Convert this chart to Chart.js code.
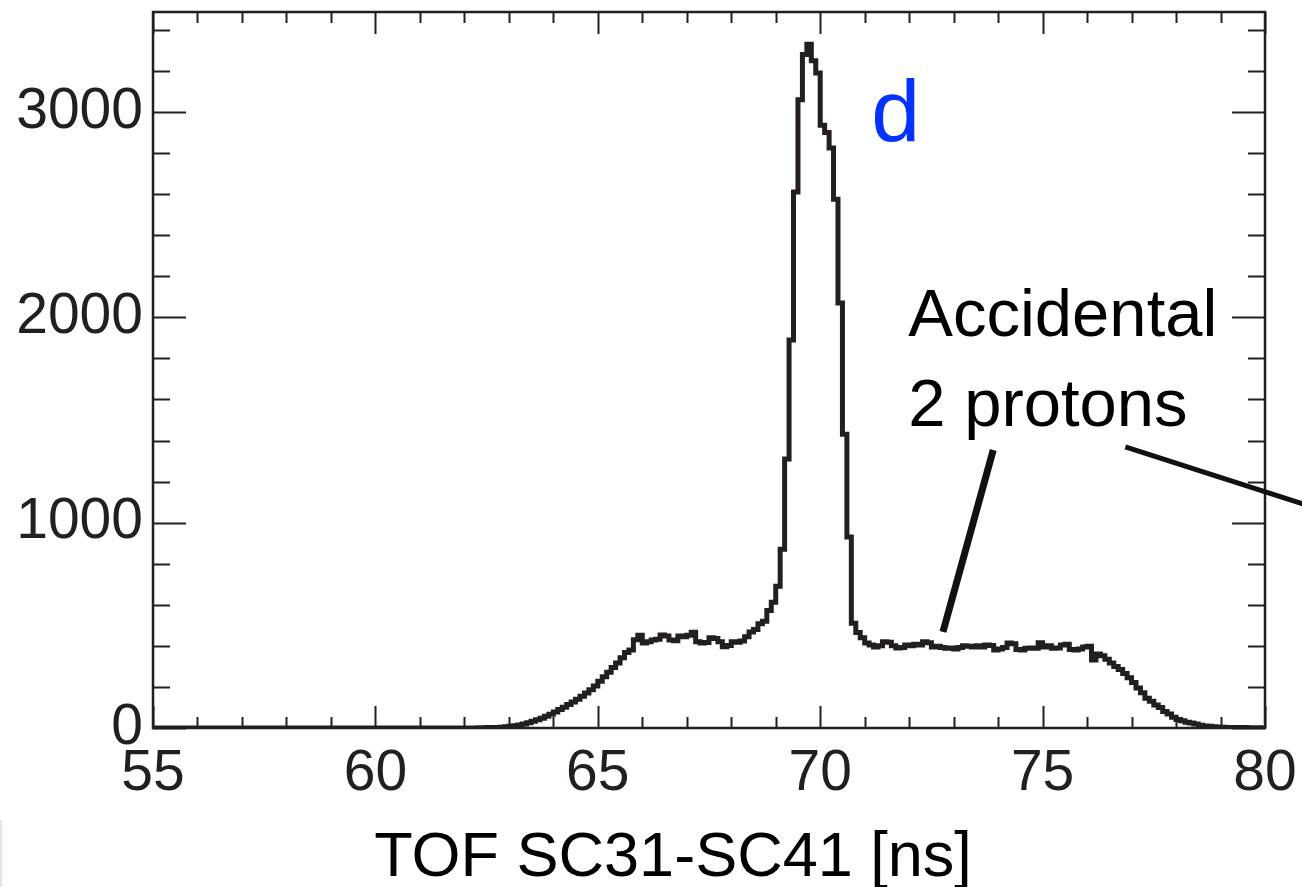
<!DOCTYPE html>
<html>
<head>
<meta charset="utf-8">
<script src="https://cdn.jsdelivr.net/npm/chart.js@4/dist/chart.umd.min.js"></script>
<style>
  html, body { margin: 0; padding: 0; background: #fff; }
  canvas { display: block; }
</style>
</head>
<body>
<canvas id="tof" width="1302" height="887"></canvas>
<script>
// histogram: 250 bins of 0.1 ns from 55 to 80 ns
const binStart = 55;
const binWidth = 0.1;
const counts = [
  0, 0, 0, 0, 0, 0, 0, 0, 0, 0,              // 55
  0, 0, 0, 0, 0, 0, 0, 0, 0, 0,              // 56
  0, 0, 0, 0, 0, 0, 0, 0, 0, 0,              // 57
  0, 0, 0, 0, 0, 0, 0, 0, 0, 0,              // 58
  0, 0, 0, 0, 0, 0, 0, 0, 0, 0,              // 59
  0, 0, 0, 0, 0, 0, 0, 0, 0, 0,              // 60
  0, 0, 0, 0, 0, 0, 0, 0, 0, 0,              // 61
  0, 0, 0, 1, 1, 2, 2, 3, 4, 6,              // 62
  8, 11, 15, 20, 26, 33, 40, 48, 57, 67,     // 63
  78, 90, 101, 114, 127, 140, 155, 170, 186, 205,   // 64
  228, 250, 272, 295, 316, 342, 368, 380, 430, 452, // 65
  414, 420, 428, 432, 453, 448, 428, 425, 448, 445, // 66
  452, 466, 420, 414, 416, 440, 436, 420, 396, 402, // 67
  420, 418, 424, 445, 468, 480, 508, 520, 572, 612, // 68
  690, 870, 1310, 1890, 2610, 3060, 3280, 3330, 3250, 3190, // 69
  2935, 2900, 2825, 2575, 2070, 1430, 930, 510, 465, 440,   // 70
  414, 404, 395, 400, 420, 418, 400, 390, 392, 404, // 71
  400, 408, 404, 420, 415, 395, 398, 392, 388, 390, // 72
  385, 392, 400, 398, 395, 400, 395, 404, 402, 380, // 73
  385, 392, 414, 410, 382, 380, 388, 390, 388, 415, // 74
  395, 400, 388, 390, 404, 408, 382, 380, 385, 395, // 75
  398, 331, 360, 352, 335, 316, 300, 285, 265, 245, // 76
  222, 195, 172, 145, 130, 112, 100, 80, 68, 52,    // 77
  42, 35, 28, 24, 19, 14, 10, 8, 6, 5,              // 78
  4, 3, 3, 2, 2, 2, 1, 1, 1, 0                      // 79
];

const xRange = [55, 80];
const yRange = [0, 3487];
const xTicks = [55, 60, 65, 70, 75, 80];
const yTicks = [0, 1000, 2000, 3000];
const xMinorStep = 1;
const yMinorStep = 200;

const xTitle = 'TOF SC31-SC41 [ns]';
const peakLabel = { text: 'd', x: 71.15, y: 2860 };
const accLabel = { lines: ['Accidental', '2 protons'], x: 71.98, y: [1909, 1471] };
const pointerLines = [
  [[73.89, 1354], [72.76, 468]],
  [[76.86, 1369], [80.85, 1091]]
];

const FONT = '"Liberation Sans", Arial, Helvetica, sans-serif';
const INK = '#231f20';

// step outline: one point per left bin edge, plus the right edge of the last bin
const points = counts.map((c, i) => ({ x: +(binStart + i * binWidth).toFixed(2), y: c }));
points.push({ x: +(binStart + counts.length * binWidth).toFixed(2), y: counts[counts.length - 1] });

const frameAndTicks = {
  id: 'frameAndTicks',
  afterDraw(chart) {
    const { ctx, chartArea: a, scales: { x, y } } = chart;
    ctx.save();
    ctx.strokeStyle = INK;

    // tick marks inside the frame, on all four sides
    ctx.lineWidth = 2;
    ctx.beginPath();
    for (let v = xRange[0]; v <= xRange[1] + 1e-9; v += xMinorStep) {
      const px = Math.round(x.getPixelForValue(v)) + 0.5;
      const len = xTicks.includes(v) ? 22 : 11;
      ctx.moveTo(px, a.bottom); ctx.lineTo(px, a.bottom - len);
      ctx.moveTo(px, a.top); ctx.lineTo(px, a.top + len);
    }
    for (let v = yRange[0]; v <= yRange[1]; v += yMinorStep) {
      const py = Math.round(y.getPixelForValue(v)) + 0.5;
      const len = yTicks.includes(v) ? 33 : 17;
      ctx.moveTo(a.left, py); ctx.lineTo(a.left + len, py);
      ctx.moveTo(a.right, py); ctx.lineTo(a.right - len, py);
    }
    ctx.stroke();

    // frame
    ctx.lineWidth = 2.5;
    ctx.strokeRect(a.left, a.top, a.right - a.left, a.bottom - a.top);

    // annotations
    ctx.fillStyle = '#0433ff';
    ctx.font = '88px ' + FONT;
    ctx.textAlign = 'left';
    ctx.textBaseline = 'alphabetic';
    ctx.fillText(peakLabel.text, x.getPixelForValue(peakLabel.x), y.getPixelForValue(peakLabel.y));

    ctx.fillStyle = '#000';
    ctx.font = '67px ' + FONT;
    accLabel.lines.forEach((t, i) => {
      ctx.fillText(t, x.getPixelForValue(accLabel.x), y.getPixelForValue(accLabel.y[i]));
    });

    ctx.strokeStyle = '#111';
    ctx.lineCap = 'butt';
    pointerLines.forEach((ln, i) => {
      ctx.lineWidth = i === 0 ? 7 : 5;
      ctx.beginPath();
      ctx.moveTo(x.getPixelForValue(ln[0][0]), y.getPixelForValue(ln[0][1]));
      ctx.lineTo(x.getPixelForValue(ln[1][0]), y.getPixelForValue(ln[1][1]));
      ctx.stroke();
    });

    // axis title, right part of the bottom band
    ctx.fillStyle = '#000';
    ctx.font = '63px ' + FONT;
    ctx.textAlign = 'center';
    ctx.fillText(xTitle, 673, 876);

    // faint crop edge bottom-left
    ctx.strokeStyle = '#dddddd';
    ctx.lineWidth = 1.5;
    ctx.beginPath();
    ctx.moveTo(1, 820); ctx.lineTo(1, 887);
    ctx.stroke();

    ctx.restore();
  }
};

new Chart(document.getElementById('tof'), {
  type: 'line',
  data: {
    datasets: [{
      data: points,
      stepped: true,
      borderColor: INK,
      borderWidth: 5,
      pointRadius: 0,
      fill: false
    }]
  },
  options: {
    responsive: false,
    animation: false,
    layout: { padding: { top: 12, right: 37, left: 0, bottom: 0 } },
    plugins: {
      legend: { display: false },
      tooltip: { enabled: false }
    },
    scales: {
      x: {
        type: 'linear',
        min: xRange[0],
        max: xRange[1],
        grid: { display: false, drawTicks: false },
        border: { display: false },
        afterBuildTicks: s => { s.ticks = xTicks.map(v => ({ value: v })); },
        ticks: {
          autoSkip: false,
          maxRotation: 0,
          padding: 12,
          color: INK,
          font: { family: FONT, size: 57 },
          callback: v => String(v)
        },
        afterFit: s => { s.height = 159; s.paddingLeft = 0; s.paddingRight = 0; }
      },
      y: {
        type: 'linear',
        min: yRange[0],
        max: yRange[1],
        grid: { display: false, drawTicks: false },
        border: { display: false },
        afterBuildTicks: s => { s.ticks = yTicks.map(v => ({ value: v })); },
        ticks: {
          autoSkip: false,
          padding: 10,
          color: INK,
          font: { family: FONT, size: 57 },
          callback: v => String(v)
        },
        afterFit: s => { s.width = 153; s.paddingTop = 0; s.paddingBottom = 0; }
      }
    }
  },
  plugins: [frameAndTicks]
});
</script>
</body>
</html>
